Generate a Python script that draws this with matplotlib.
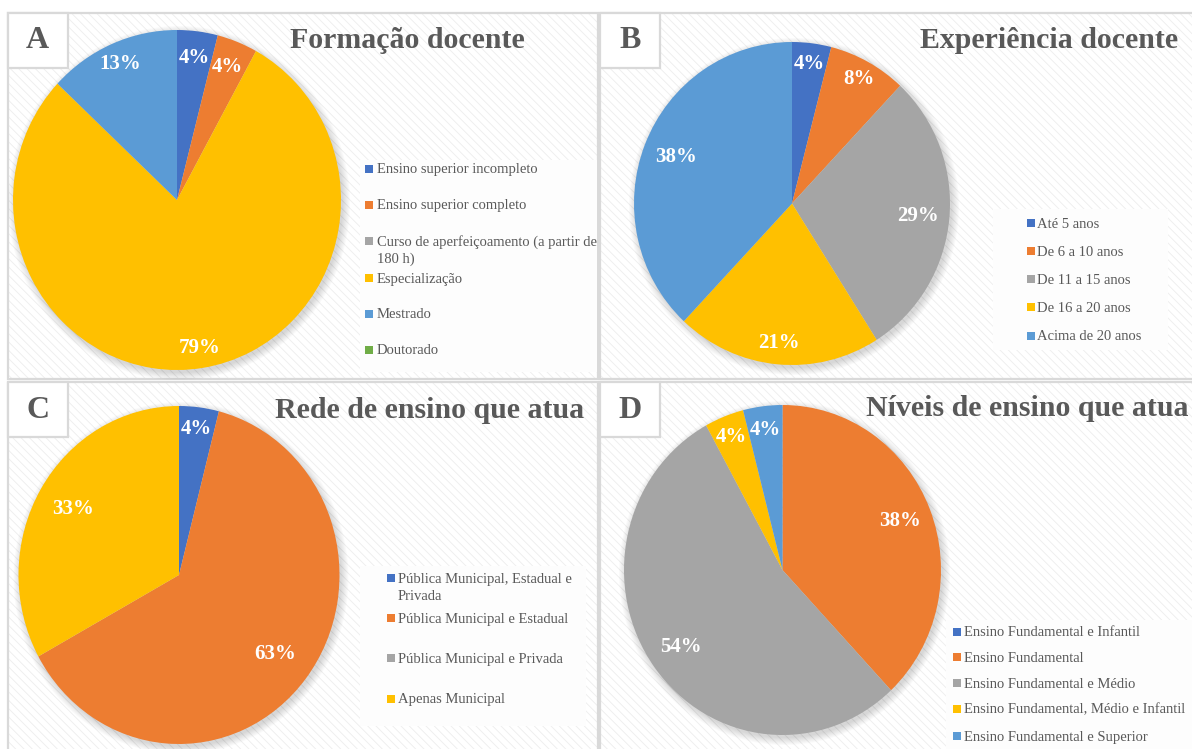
import matplotlib
matplotlib.use('Agg')
import matplotlib.pyplot as plt
from matplotlib.patches import Rectangle, Ellipse
import numpy as np

plt.rcParams['hatch.linewidth'] = 0.6
plt.rcParams['hatch.color'] = '#ededed'

# ---------------- data ----------------
a_labels = ['Ensino superior incompleto', 'Ensino superior completo',
            'Curso de aperfeiçoamento (a partir de\n180 h)', 'Especialização',
            'Mestrado', 'Doutorado']
a_values = [4, 4, 0, 79, 13, 0]

b_labels = ['Até 5 anos', 'De 6 a 10 anos', 'De 11 a 15 anos',
            'De 16 a 20 anos', 'Acima de 20 anos']
b_values = [4, 8, 29, 21, 38]

c_labels = ['Pública Municipal, Estadual e\nPrivada', 'Pública Municipal e Estadual',
            'Pública Municipal e Privada', 'Apenas Municipal']
c_values = [4, 63, 0, 33]

d_labels = ['Ensino Fundamental e Infantil', 'Ensino Fundamental',
            'Ensino Fundamental e Médio', 'Ensino Fundamental, Médio e Infantil',
            'Ensino Fundamental e Superior']
d_values = [0, 38, 54, 4, 4]

titles = ['Formação docente', 'Experiência docente',
          'Rede de ensino que atua', 'Níveis de ensino que atua']
letters = ['A', 'B', 'C', 'D']
colors = ['#4472C4', '#ED7D31', '#A5A5A5', '#FFC000', '#5B9BD5', '#70AD47']

# ---------------- layout (pixels) ----------------
W, H = 1192, 749
FONT = 'Liberation Serif'
GRAY = '#595959'
BORDER = '#d9d9d9'

panels = [
    dict(labels=a_labels, values=a_values, rect=(7.5, 12.5, 590, 366.5),
         pie=(177, 200, 164, 170), dists=[.84, .84, .8, .88, .87, .8],
         title=('center', 407, 40), box=(7.5, 12.5, 60, 55),
         leg_box=(360, 160, 237, 212), leg_sq=369, leg_tx=377,
         leg_y=[169, 205, 241, 278, 314, 350]),
    dict(labels=b_labels, values=b_values, rect=(600, 12.5, 600, 366.5),
         pie=(792, 203.5, 158, 161.5), dists=[.87, .88, .8, .87, .79],
         title=('center', 1049, 40), box=(600, 12.5, 60, 55),
         leg_box=(993, 209, 175, 141), leg_sq=1030.5, leg_tx=1037,
         leg_y=[223, 251, 279, 307, 336]),
    dict(labels=c_labels, values=c_values, rect=(7.5, 382, 590, 380),
         pie=(179, 575, 160.5, 169), dists=[.87, .76, .8, .77],
         title=('center', 430, 410), box=(7.5, 382, 60, 55),
         leg_box=(360, 566, 226, 160), leg_sq=391, leg_tx=398,
         leg_y=[578, 618, 658, 699]),
    dict(labels=d_labels, values=d_values, rect=(600, 382, 600, 380),
         pie=(782.5, 570, 158.5, 165), dists=[.8, .8, .79, .87, .855],
         title=('left', 866, 408), box=(600, 382, 60, 55),
         leg_box=(946, 620, 250, 140), leg_sq=957, leg_tx=964,
         leg_y=[632, 657, 683, 709, 736]),
]

fig = plt.figure(figsize=(W / 100, H / 100), dpi=100)
fig.patch.set_facecolor('white')

bg = fig.add_axes([0, 0, 1, 1], zorder=-1)
bg.set_xlim(0, W); bg.set_ylim(H, 0); bg.axis('off')
ov = fig.add_axes([0, 0, 1, 1], zorder=2)
ov.set_xlim(0, W); ov.set_ylim(H, 0); ov.axis('off')
ov.patch.set_alpha(0)

for i, p in enumerate(panels):
    x0, y0, w, h = p['rect']
    # hatched panel background
    bg.add_patch(Rectangle((x0, y0), w, h, facecolor='white', hatch='\\\\\\\\',
                           linewidth=0))
    bg.add_patch(Rectangle((x0, y0), w, h, fill=False, edgecolor=BORDER, linewidth=1.6))

    cx, cy, rx, ry = p['pie']
    # soft shadow
    for k in range(8):
        bg.add_patch(Ellipse((cx + 2, cy + 3), 2 * rx + 2 * k, 2 * ry + 2 * k,
                             facecolor='#000000', alpha=0.018, linewidth=0))

    ax = fig.add_axes([(cx - rx) / W, 1 - (cy + ry) / H, 2 * rx / W, 2 * ry / H], zorder=1)
    vals = p['values']
    wedges, _ = ax.pie(vals, colors=colors[:len(vals)], startangle=90, counterclock=False,
                       radius=1, wedgeprops=dict(linewidth=0))
    ax.set_xlim(-1, 1); ax.set_ylim(-1, 1); ax.set_aspect('auto')
    ax.patch.set_alpha(0)
    for wdg, v, d in zip(wedges, vals, p['dists']):
        if v == 0:
            continue
        ang = np.deg2rad((wdg.theta1 + wdg.theta2) / 2)
        ax.text(d * np.cos(ang), d * np.sin(ang), f'{v}%', ha='center', va='center',
                color='white', fontsize=15, fontweight='bold', family=FONT)

    # title
    ha, tx, ty = p['title']
    ov.text(tx, ty, titles[i], ha=ha, va='center', fontsize=21.5, fontweight='bold',
            color=GRAY, family=FONT)

    # letter box
    bx, by, bw, bh = p['box']
    ov.add_patch(Rectangle((bx, by), bw, bh, facecolor='white', edgecolor=BORDER,
                           linewidth=1.6))
    ov.text(bx + bw / 2, by + bh / 2 + 1, letters[i], ha='center', va='center',
            fontsize=23, fontweight='bold', color=GRAY, family=FONT)

    # legend
    lx, ly, lw, lh = p['leg_box']
    ov.add_patch(Rectangle((lx, ly), lw, lh, facecolor='#fdfdfd', linewidth=0))
    for lab, col, yy in zip(p['labels'], colors, p['leg_y']):
        ov.add_patch(Rectangle((p['leg_sq'] - 4, yy - 4), 8, 8, facecolor=col,
                               linewidth=0))
        for j, line in enumerate(lab.split('\n')):
            ov.text(p['leg_tx'], yy + 4.5 + j * 17.5, line, ha='left', va='baseline',
                    fontsize=10.5, color=GRAY, family=FONT)

fig.savefig('out.png', dpi=100, facecolor='white')
